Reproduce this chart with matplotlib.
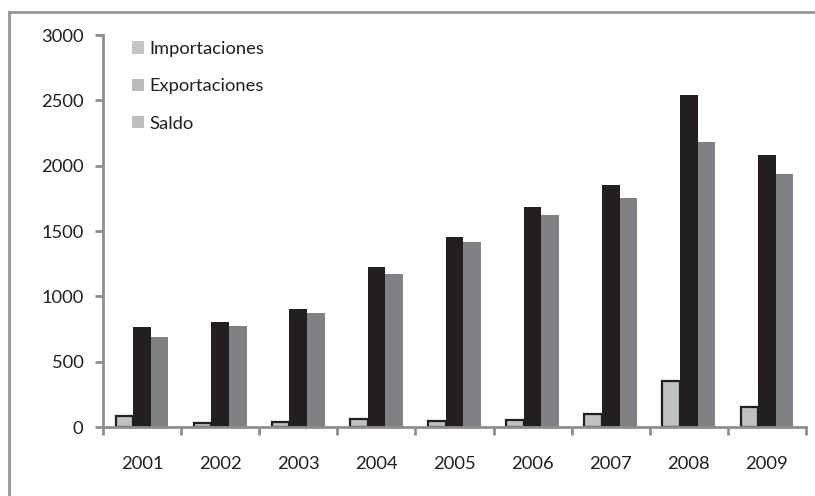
import matplotlib
matplotlib.use("Agg")
import matplotlib.pyplot as plt
from matplotlib.patches import Patch
from matplotlib.lines import Line2D
import numpy as np

# Datos
years = ["2001", "2002", "2003", "2004", "2005", "2006", "2007", "2008", "2009"]
importaciones = [85, 30, 40, 60, 45, 55, 100, 355, 155]
exportaciones = [765, 800, 905, 1225, 1455, 1680, 1850, 2540, 2085]
saldo = [685, 775, 870, 1170, 1415, 1625, 1750, 2180, 1935]

plt.rcParams['font.family'] = ['Lato', 'DejaVu Sans']

fig = plt.figure(figsize=(8.15, 4.96), dpi=100)
W, H = 815.0, 496.0
ax = fig.add_axes([103 / W, 69 / H, (806 - 103) / W, (427 - 35) / H])

x = np.arange(len(years))
bw = 0.225
ax.bar(x - bw, importaciones, bw, color='#bfc0c2', edgecolor='#231f20', linewidth=1.6)
ax.bar(x, exportaciones, bw, color='#231f20', edgecolor='none')
ax.bar(x + bw, saldo, bw, color='#808184', edgecolor='none')

ax.set_xlim(-0.5, len(years) - 0.5)
ax.set_ylim(0, 3000)
ax.set_yticks([0, 500, 1000, 1500, 2000, 2500, 3000])
ax.set_xticks(x)
ax.set_xticklabels(years)
ax.set_xticks(np.arange(len(years) + 1) - 0.5, minor=True)

axis_color = '#8e8e8e'
for s in ['top', 'right']:
    ax.spines[s].set_visible(False)
for s in ['left', 'bottom']:
    ax.spines[s].set_color(axis_color)
    ax.spines[s].set_linewidth(2)
ax.tick_params(axis='x', which='major', length=0, pad=21, labelsize=13.2, labelcolor='#231f20')
ax.tick_params(axis='x', which='minor', length=6, width=2, color=axis_color)
ax.tick_params(axis='y', length=6, width=2, color=axis_color, pad=8, labelsize=13.2, labelcolor='#231f20')

handles = [Patch(facecolor='#c4c5c7', edgecolor='none'),
           Patch(facecolor='#bbbcbe', edgecolor='none'),
           Patch(facecolor='#bdbec0', edgecolor='none')]
ax.legend(handles, ['Importaciones', 'Exportaciones', 'Saldo'],
          loc='upper left', bbox_to_anchor=(0.018, 1.027), frameon=False,
          fontsize=13.2, handlelength=0.65, handleheight=0.65, handletextpad=0.3,
          labelspacing=1.17, labelcolor='#231f20')

# marco exterior (solo izquierda y arriba visibles)
fig.add_artist(Line2D([9 / W, 9 / W], [0, (H - 12) / H], color='#969696', linewidth=2, transform=fig.transFigure))
fig.add_artist(Line2D([9 / W, 1], [(H - 12) / H, (H - 12) / H], color='#969696', linewidth=2, transform=fig.transFigure))

fig.savefig('out.png', dpi=100)
